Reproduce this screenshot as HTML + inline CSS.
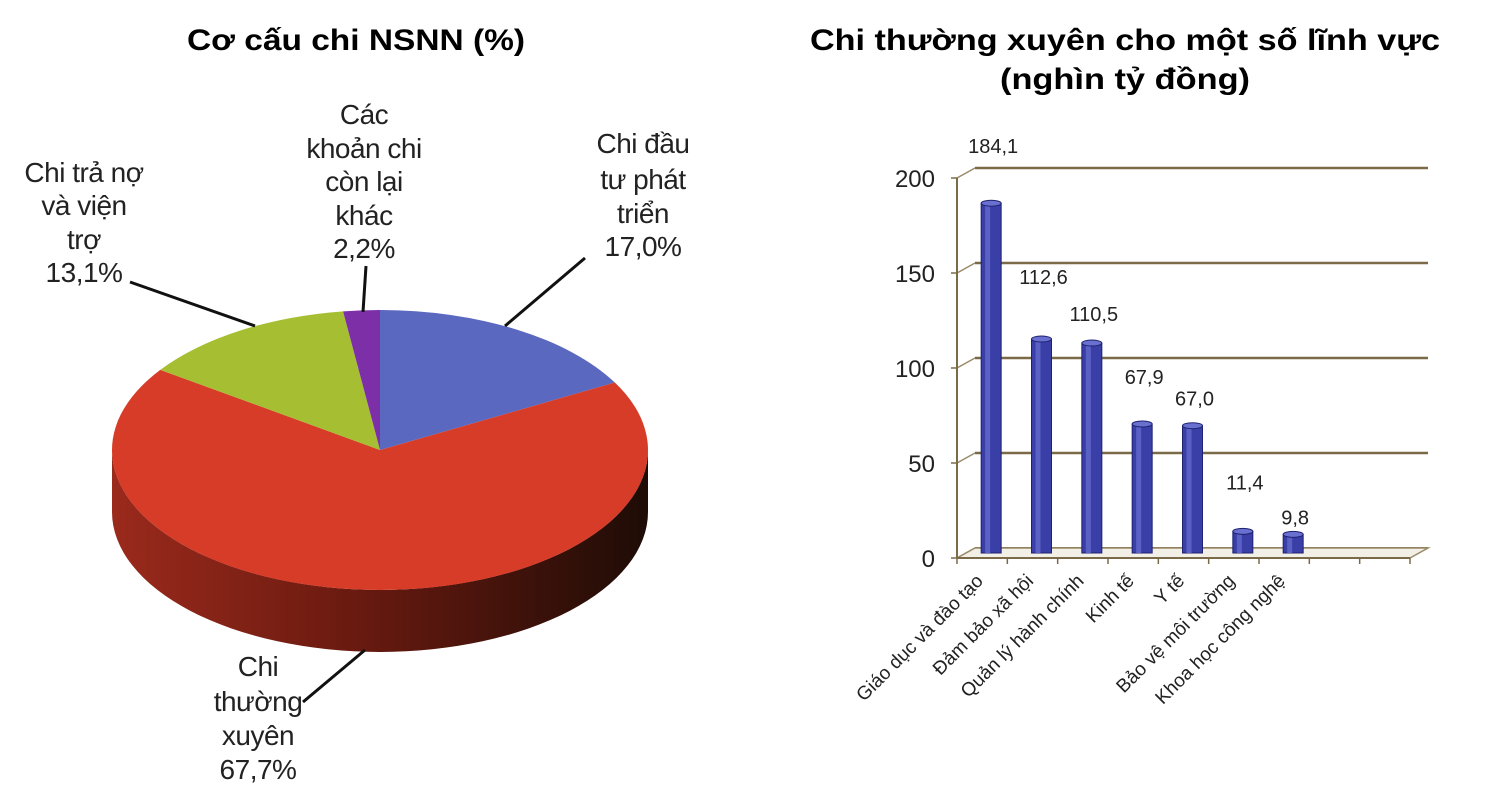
<!DOCTYPE html>
<html><head><meta charset="utf-8"><style>
html,body{margin:0;padding:0;background:#fff;}
svg{display:block;font-family:"Liberation Sans",sans-serif;}
</style></head><body>
<svg id="root" width="1500" height="785" viewBox="0 0 1500 785">
<defs>
<linearGradient id="side" x1="0" x2="1" y1="0" y2="0">
<stop offset="0" stop-color="#9a2a1c"/><stop offset="0.45" stop-color="#6a1a10"/><stop offset="1" stop-color="#1e0c06"/>
</linearGradient>
</defs>
<text x="187" y="50" font-size="30" font-weight="bold" textLength="338" lengthAdjust="spacingAndGlyphs">Cơ cấu chi NSNN (%)</text>
<text x="810" y="50" font-size="30" font-weight="bold" textLength="630" lengthAdjust="spacingAndGlyphs">Chi thường xuyên cho một số lĩnh vực</text>
<text x="1000" y="89" font-size="30" font-weight="bold" textLength="250" lengthAdjust="spacingAndGlyphs">(nghìn tỷ đồng)</text>
<g id="pie"></g>
<g id="bars"></g>
</svg>
<script>
const pieLabels = ["Chi đầu tư phát triển","Chi thường xuyên","Chi trả nợ và viện trợ","Các khoản chi còn lại khác"];
const pieValues = [17.0, 67.7, 13.1, 2.2];
const pieColors = ["#5a68c0","#d63c28","#a6bf32","#7d2fa8"];

const barCategories = ["Giáo dục và đào tạo","Đảm bảo xã hội","Quản lý hành chính","Kinh tế","Y tế","Bảo vệ môi trường","Khoa học công nghệ"];
const barValues = [184.1, 112.6, 110.5, 67.9, 67.0, 11.4, 9.8];
const barValueLabels = ["184,1","112,6","110,5","67,9","67,0","11,4","9,8"];
const yTicks = [0, 50, 100, 150, 200];

const NS = "http://www.w3.org/2000/svg";
function mk(tag, attrs, parent){const e=document.createElementNS(NS,tag);for(const k in attrs)e.setAttribute(k,attrs[k]);parent.appendChild(e);return e;}

// ---- PIE ----
const pie = document.getElementById('pie');
const cx=380, cy=450, rx=268, ry=140, depth=62;
const total = pieValues.reduce((a,b)=>a+b,0);
const pt=(a)=>[cx+rx*Math.cos(a), cy+ry*Math.sin(a)];
let sd = `M ${cx-rx} ${cy} A ${rx} ${ry} 0 0 0 ${cx+rx} ${cy} L ${cx+rx} ${cy+depth} A ${rx} ${ry} 0 0 1 ${cx-rx} ${cy+depth} Z`;
const side = mk('path',{d:sd,fill:'url(#side)'},pie);


let ang = -Math.PI/2;
pieValues.forEach((v,i)=>{
  const sweep = v/total*2*Math.PI;
  const a0=ang, a1=ang+sweep;
  const p0=pt(a0), p1=pt(a1);
  const large = sweep>Math.PI?1:0;
  const p = mk('path',{d:`M ${cx} ${cy} L ${p0[0]} ${p0[1]} A ${rx} ${ry} 0 ${large} 1 ${p1[0]} ${p1[1]} Z`,fill:pieColors[i]},pie);
  
  
  ang = a1;
});
const fmt = v => v.toFixed(1).replace('.',',')+"%";
const pieText = [
  {x:643,y:[153,189,223,256],t:["Chi đầu","tư phát","triển",fmt(pieValues[0])],line:[585,258,505,326]},
  {x:258,y:[676,711,745,779],t:["Chi","thường","xuyên",fmt(pieValues[1])],line:[303,702,365,650]},
  {x:84,y:[182,215,249,282],t:["Chi trả nợ","và viện","trợ",fmt(pieValues[2])],line:[130,282,255,326]},
  {x:364,y:[124,158,191,225,258],t:["Các","khoản chi","còn lại","khác",fmt(pieValues[3])],line:[366,266,363,312]}
];
pieText.forEach((L,i)=>{
  const g = mk('g',{},pie);
  
  
  L.t.forEach((s,j)=>{const t=mk('text',{x:L.x,y:L.y[j],'font-size':28,'text-anchor':'middle','letter-spacing':'-0.5',fill:'#222'},g);t.textContent=s;});
  const ln=mk('line',{x1:L.line[0],y1:L.line[1],x2:L.line[2],y2:L.line[3],stroke:'#111','stroke-width':3},g);
  
  
});

// ---- BARS ----
const bars = document.getElementById('bars');
const fx0=957, fxEnd=1410, fy0=558, fy200=178, dx=18, dy=-10, slots=9;
const slotW=(fxEnd-fx0)/slots;
const yF = v => fy0 + (fy200-fy0)*v/200;
const labelGap = [50,55,22,40,20,42,10];
yTicks.forEach(v=>{
  const y=yF(v);
  const g=mk('line',{x1:fx0+dx,y1:y+dy,x2:fxEnd+dx,y2:y+dy,stroke:'#7a6a48','stroke-width':v===0?2:2.5},bars);
  
  
  mk('line',{x1:fx0,y1:y,x2:fx0+dx,y2:y+dy,stroke:'#9a8a68','stroke-width':1.5},bars);
  mk('line',{x1:fx0-6,y1:y,x2:fx0,y2:y,stroke:'#7a6a48','stroke-width':1.5},bars);
  const t=mk('text',{x:fx0-22,y:y+9,'font-size':24,'text-anchor':'end',fill:'#222'},bars);
  t.textContent=v;
  
  
});
mk('path',{d:`M ${fx0} ${fy0} L ${fxEnd} ${fy0} L ${fxEnd+dx} ${fy0+dy} L ${fx0+dx} ${fy0+dy} Z`,fill:'#f2efe6',stroke:'#9a8a68','stroke-width':1.5},bars);
const ax=mk('line',{x1:fx0,y1:fy0,x2:fxEnd,y2:fy0,stroke:'#7a6a48','stroke-width':2},bars);


const ay=mk('line',{x1:fx0,y1:fy0,x2:fx0,y2:fy200,stroke:'#7a6a48','stroke-width':2},bars);


for(let i=0;i<=slots;i++){mk('line',{x1:fx0+slotW*i,y1:fy0,x2:fx0+slotW*i,y2:fy0+6,stroke:'#7a6a48','stroke-width':1.5},bars);}
const bw=20, bOff=dx/2, bYoff=dy/2;
barValues.forEach((v,i)=>{
  const c=fx0+slotW*(i+0.5)+bOff;
  const yb=fy0+bYoff, yt=yF(v)+bYoff;
  const g=mk('g',{},bars);
  
  
  mk('rect',{x:c-bw/2,y:yt,width:bw,height:yb-yt,fill:'#3a3fa8',stroke:'#1e2270','stroke-width':1},g);
  mk('rect',{x:c-bw/2+4,y:yt,width:5,height:yb-yt,fill:'#5a60c4'},g);
  mk('ellipse',{cx:c,cy:yt,rx:bw/2,ry:3,fill:'#6a70d0',stroke:'#1e2270','stroke-width':1},g);
  const t=mk('text',{x:c+2,y:yt-labelGap[i],'font-size':20,'text-anchor':'middle',fill:'#222'},bars);
  t.textContent=barValueLabels[i];
  
  
  const lx=c-bOff+2, ly=fy0+24;
  const l=mk('text',{x:lx,y:ly,'font-size':19,'text-anchor':'end',fill:'#222',transform:`rotate(-45 ${lx} ${ly})`},bars);
  l.textContent=barCategories[i];
  
  
});
</script>
</body></html>
